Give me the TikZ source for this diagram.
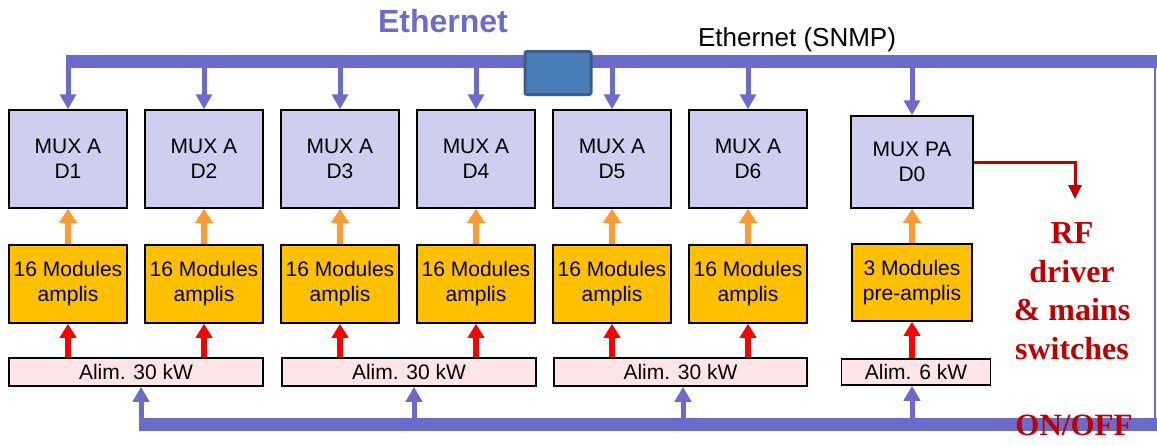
\documentclass[tikz,border=0pt]{standalone}
\usepackage{fontspec}
\setmainfont{Liberation Sans}
\newfontfamily\timesbf{Liberation Serif}
\usetikzlibrary{positioning, arrows.meta}

\definecolor{busblue}{RGB}{107,107,204}
\definecolor{muxfill}{RGB}{206,206,238}
\definecolor{ampfill}{RGB}{255,192,0}
\definecolor{amporange}{RGB}{255,153,51}
\definecolor{alimfill}{RGB}{255,228,232}
\definecolor{rfred}{RGB}{192,0,0}
\definecolor{swfill}{RGB}{74,126,187}
\definecolor{swdraw}{RGB}{58,94,138}

\begin{document}
\begin{tikzpicture}[
    x=1pt, y=-1pt,
    font=\fontsize{21}{25}\selectfont,
    mux/.style={draw, line width=1.5pt, fill=muxfill, align=center,
                minimum width=118pt, minimum height=98pt, inner sep=0pt},
    amp/.style={draw, line width=1.5pt, fill=ampfill, align=center,
                minimum width=118pt, minimum height=78pt, inner sep=0pt},
    alim/.style={draw, line width=1.5pt, fill=alimfill, minimum height=28pt, inner sep=0pt},
    switch/.style={draw=swdraw, line width=3pt, fill=swfill, rounded corners=2pt,
                   minimum width=66pt, minimum height=43pt},
    bus/.style={line width=13pt, busblue},
    busarr/.style={-{Triangle[width=16pt,length=15pt]}, line width=5pt, busblue},
    amparr/.style={-{Triangle[width=17pt,length=14pt]}, line width=6pt, amporange},
    pwrarr/.style={-{Triangle[width=16pt,length=14pt]}, line width=6pt, red},
    rfarr/.style={-{Triangle[width=13pt,length=14pt]}, line width=3pt, rfred},
    rftext/.style={font=\timesbf\bfseries\fontsize{32}{38.5}\selectfont, text=rfred, align=center},
]
\useasboundingbox (0,0) rectangle (1157,445);

% ── MUX row ──────────────────────────────────────────────────────────────────
\node[mux] (mux1) at (68,159) {MUX A\\D1};
\node[mux, right=16.5pt of mux1] (mux2) {MUX A\\D2};
\node[mux, right=16.5pt of mux2] (mux3) {MUX A\\D3};
\node[mux, right=16.5pt of mux3] (mux4) {MUX A\\D4};
\node[mux, right=16.5pt of mux4] (mux5) {MUX A\\D5};
\node[mux, right=16.5pt of mux5] (mux6) {MUX A\\D6};
\node[mux, minimum width=122pt, minimum height=92pt] (mux0) at (912,162) {MUX PA\\D0};

% ── amplifier modules ────────────────────────────────────────────────────────
\node[amp, below=35.5pt of mux1] (amp1) {16 Modules\\amplis};
\node[amp, below=35.5pt of mux2] (amp2) {16 Modules\\amplis};
\node[amp, below=35.5pt of mux3] (amp3) {16 Modules\\amplis};
\node[amp, below=35.5pt of mux4] (amp4) {16 Modules\\amplis};
\node[amp, below=35.5pt of mux5] (amp5) {16 Modules\\amplis};
\node[amp, below=35.5pt of mux6] (amp6) {16 Modules\\amplis};
\node[amp, minimum width=120pt, minimum height=77pt, below=34.5pt of mux0] (amp0)
    {3 Modules\\pre-amplis};

% ── power supplies ───────────────────────────────────────────────────────────
\node[alim, minimum width=254pt] (alimA) at (136,372) {Alim. 30 kW};
\node[alim, minimum width=254pt, right=17.5pt of alimA] (alimB) {Alim. 30 kW};
\node[alim, minimum width=253pt, right=16.5pt of alimB] (alimC) {Alim. 30 kW};
\node[alim, minimum width=149pt, minimum height=26pt] (alim0) at (916,372) {Alim. 6 kW};

% ── labels ───────────────────────────────────────────────────────────────────
\node[font=\bfseries\fontsize{32}{38}\selectfont, text=busblue] (eth) at (443,21) {Ethernet};
\node[font=\fontsize{26}{30}\selectfont] (snmp) at (797,40) {Ethernet (SNMP)};
\node[rftext] (rf) at (1072,291) {RF\\driver\\\& mains\\switches};

\coordinate (top) at (0,61);
\coordinate (bot) at (0,424);
\coordinate (rfdrv) at (1075,199);
\coordinate (b1) at (141,424);
\coordinate (b2) at (414,424);
\coordinate (b3) at (683,424);
\coordinate (b4) at (912,424);

% ── Ethernet bus ─────────────────────────────────────────────────────────────
\draw[bus] ([xshift=-2.5pt]mux1.north |- top) -- (1157,61);
\draw[line width=2pt, busblue] (1155,61) -- (1155,424);
\node[switch] (sw) at (558,73) {};
\foreach \m in {mux1,mux2,mux3,mux4,mux5,mux6,mux0}
    \draw[busarr] (\m.north |- top) -- (\m.north);

% ── ON/OFF bus ───────────────────────────────────────────────────────────────
\draw[bus] ([xshift=-2.5pt]b1) -- (1157,424);
\draw[busarr] (b1) -- (b1 |- alimA.south);
\draw[busarr] (b2) -- (b2 |- alimB.south);
\draw[busarr] (b3) -- (b3 |- alimC.south);
\draw[busarr] (b4) -- (b4 |- alim0.south);
\node[font=\timesbf\bfseries\fontsize{31}{36}\selectfont, text=rfred] (onoff) at (1074,425) {ON/OFF};

% ── edges ────────────────────────────────────────────────────────────────────
\draw[amparr] (amp1) -- (mux1);
\draw[amparr] (amp2) -- (mux2);
\draw[amparr] (amp3) -- (mux3);
\draw[amparr] (amp4) -- (mux4);
\draw[amparr] (amp5) -- (mux5);
\draw[amparr] (amp6) -- (mux6);
\draw[amparr] (amp0) -- (mux0);
\draw[pwrarr] (amp1.south |- alimA.north) -- (amp1.south);
\draw[pwrarr] (amp2.south |- alimA.north) -- (amp2.south);
\draw[pwrarr] (amp3.south |- alimB.north) -- (amp3.south);
\draw[pwrarr] (amp4.south |- alimB.north) -- (amp4.south);
\draw[pwrarr] (amp5.south |- alimC.north) -- (amp5.south);
\draw[pwrarr] (amp6.south |- alimC.north) -- (amp6.south);
\draw[pwrarr] (amp0.south |- alim0.north) -- (amp0.south);
\draw[rfarr] (mux0.east) -| (rfdrv);

\end{tikzpicture}
\end{document}
